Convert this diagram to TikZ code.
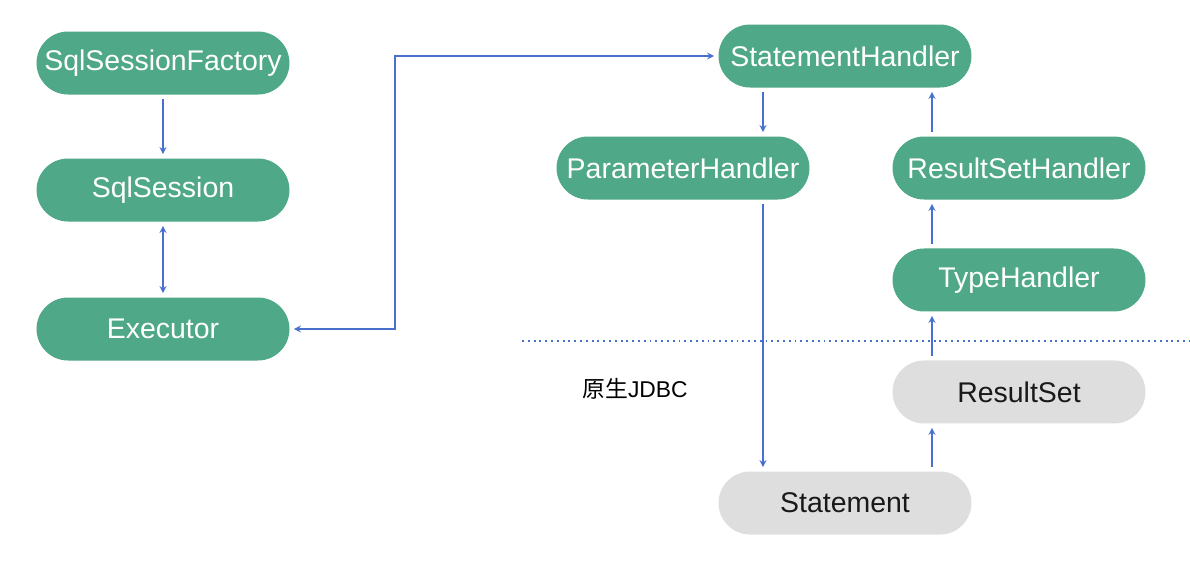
\documentclass[tikz,border=0pt]{standalone}
\usepackage{fontspec}
\setmainfont{Liberation Sans}
\newfontfamily\cjk{Noto Sans CJK SC}
\definecolor{nodegreen}{RGB}{79,168,136}
\definecolor{jdbcgray}{RGB}{222,222,222}
\definecolor{linkblue}{RGB}{74,112,206}

\begin{document}
\begin{tikzpicture}[x=0.02cm, y=-0.02cm, node distance=2.24cm,
  box/.style={rectangle, rounded corners=0.63cm, minimum width=5.06cm, minimum height=1.26cm, outer sep=2.5pt, font=\fontsize{16.2}{19}\selectfont},
  mybatis/.style={box, fill=nodegreen, text=white},
  jdbc/.style={box, fill=jdbcgray, text=black!90},
  link/.style={draw=linkblue, line width=0.8pt, arrows=-stealth}]
\useasboundingbox (0,0) rectangle (1190,586);
\node (sf)[mybatis] at (163,63) {SqlSessionFactory};
\node (ss)[mybatis] at (163,190) {SqlSession};
\node (ex)[mybatis] at (163,329) {Executor};
\node (sh)[mybatis] at (845,56) {StatementHandler};
\node (ph)[mybatis] at (683,168) {ParameterHandler};
\node (rsh)[mybatis] at (1019,168) {ResultSetHandler};
\node (th)[mybatis] [below of = rsh] {TypeHandler};
\node (rs)[jdbc] [below of = th] {ResultSet};
\node (st)[jdbc] at (845,503) {Statement};
\node (jdbclabel) at (635,389) {\fontsize{13}{16}\selectfont{\cjk 原生}JDBC};
\coordinate (jx) at (395,0);
\coordinate (lx) at (763,0);
\coordinate (rx) at (932,0);
\draw[linkblue, line width=1.1pt, dash pattern=on 1.1pt off 2.2pt] (522,341) -- (1190,341);
\draw[link] (sf) -- (ss);
\draw[link, arrows=stealth-stealth] (ss) -- (ex);
\draw[link, arrows=stealth-stealth] (ex.east) -- (ex.east -| jx) -- (sh.west -| jx) -- (sh.west);
\draw[link] (sh.south -| lx) -- (ph.north -| lx);
\draw[link] (ph.south -| lx) -- (st.north -| lx);
\draw[link] (st.north -| rx) -- (rs.south -| rx);
\draw[link] (rs.north -| rx) -- (th.south -| rx);
\draw[link] (th.north -| rx) -- (rsh.south -| rx);
\draw[link] (rsh.north -| rx) -- (sh.south -| rx);
\end{tikzpicture}
\end{document}
